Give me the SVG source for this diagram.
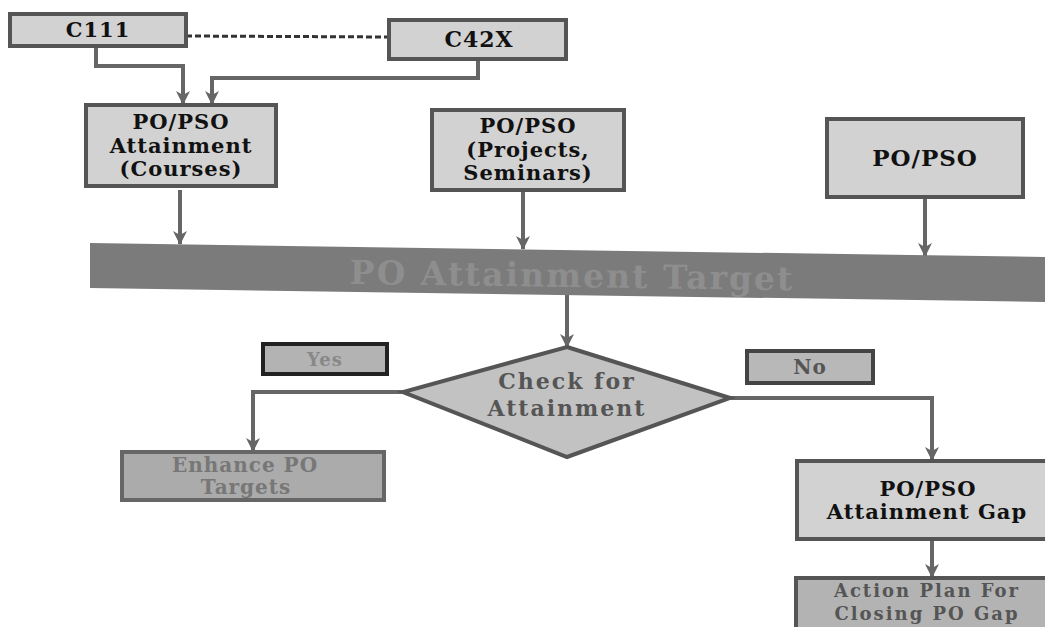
<svg xmlns="http://www.w3.org/2000/svg" width="1045" height="627" viewBox="0 0 1045 627">
<style>
.box{fill:#d2d2d2;stroke:#555;stroke-width:4}
.t{font-family:"DejaVu Serif","Liberation Serif",serif;font-weight:bold;font-size:21px;letter-spacing:1px;fill:#111;text-anchor:middle}
.c{fill:none;stroke:#666;stroke-width:4}
</style>
<defs>
<marker id="ah" viewBox="0 0 14 14" refX="13" refY="7" markerWidth="14" markerHeight="14" markerUnits="userSpaceOnUse" orient="auto">
<path d="M0,0 L14,7 L0,14 L4,7 Z" fill="#666"/>
</marker>
</defs>
<rect width="1045" height="627" fill="#fff"/>
<g id="connectors">
<line x1="186" y1="36" x2="389" y2="37" stroke="#333" stroke-width="3" stroke-dasharray="6,3"/>
<path class="c" d="M96,47 V66 H183 V104" marker-end="url(#ah)"/>
<path class="c" d="M478,59 V78 H212 V104" marker-end="url(#ah)"/>
<path class="c" d="M180,190 V244" marker-end="url(#ah)"/>
<path class="c" d="M523,192 V249" marker-end="url(#ah)"/>
<path class="c" d="M925,199 V256" marker-end="url(#ah)"/>
<path class="c" d="M567,294 V347" marker-end="url(#ah)"/>
<path class="c" d="M403,392 H253 V451" marker-end="url(#ah)"/>
<path class="c" d="M730,398 H932 V460" marker-end="url(#ah)"/>
<path class="c" d="M932,540 V577" marker-end="url(#ah)"/>
</g>
<g id="c111">
<rect class="box" x="10" y="14" width="176" height="32"/>
<text class="t" x="98" y="37">C111</text>
</g>
<g id="c42x">
<rect class="box" x="389" y="20" width="177" height="39"/>
<text class="t" x="479" y="47" style="font-size:22px">C42X</text>
</g>
<g id="courses">
<rect class="box" x="86" y="105" width="190" height="81"/>
<text class="t" x="181" y="129">PO/PSO</text>
<text class="t" x="181" y="153">Attainment</text>
<text class="t" x="181" y="176">(Courses)</text>
</g>
<g id="projects">
<rect class="box" x="432" y="110" width="192" height="80"/>
<text class="t" x="528" y="133">PO/PSO</text>
<text class="t" x="528" y="157">(Projects,</text>
<text class="t" x="528" y="180">Seminars)</text>
</g>
<g id="popso">
<rect class="box" x="827" y="119" width="196" height="78"/>
<text class="t" x="925" y="166" style="font-size:23px">PO/PSO</text>
</g>
<g id="target">
<polygon points="90,243 1045,257 1045,302 90,288" fill="#7b7b7b"/>
<text x="572" y="287" transform="rotate(0.85 567 276)" font-family="DejaVu Serif, serif" font-weight="bold" font-size="33" letter-spacing="2" fill="#8e8e8e" text-anchor="middle">PO Attainment Target</text>
</g>
<g id="check">
<polygon points="567,347 730,398 567,457 403,392" fill="#c2c2c2" stroke="#555" stroke-width="4"/>
<text class="t" x="567" y="389" style="font-size:22px;letter-spacing:2px;fill:#555">Check for</text>
<text class="t" x="567" y="416" style="font-size:22px;letter-spacing:2px;fill:#555">Attainment</text>
</g>
<g id="yes">
<rect x="263" y="344" width="124" height="30" fill="#b3b3b3" stroke="#222" stroke-width="4"/>
<text class="t" x="325" y="366" style="font-size:18px;fill:#888">Yes</text>
</g>
<g id="no">
<rect x="747" y="351" width="126" height="32" fill="#b8b8b8" stroke="#444" stroke-width="4"/>
<text class="t" x="810" y="374" style="font-size:20px;fill:#555">No</text>
</g>
<g id="enhance">
<rect x="122" y="452" width="262" height="48" fill="#ababab" stroke="#666" stroke-width="4"/>
<text class="t" x="245" y="472" style="font-size:20px;fill:#777">Enhance PO</text>
<text class="t" x="246" y="494" style="font-size:20px;fill:#777">Targets</text>
</g>
<g id="gap">
<rect class="box" x="797" y="461" width="260" height="78"/>
<text class="t" x="928" y="496">PO/PSO</text>
<text class="t" x="927" y="519">Attainment Gap</text>
</g>
<g id="action">
<rect x="796" y="578" width="260" height="52" fill="#b3b3b3" stroke="#555" stroke-width="4"/>
<text class="t" x="927" y="597" style="font-size:18px;letter-spacing:2px;fill:#555">Action Plan For</text>
<text class="t" x="927" y="620" style="font-size:18px;letter-spacing:2px;fill:#555">Closing PO Gap</text>
</g>
</svg>
